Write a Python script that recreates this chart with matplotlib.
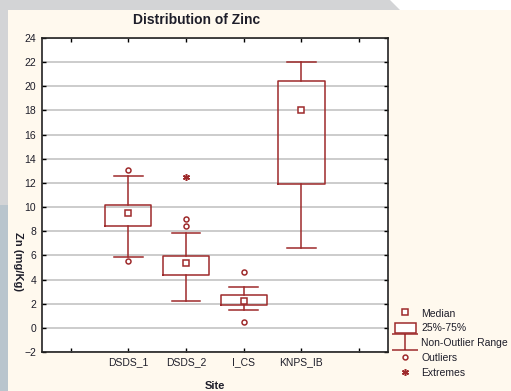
import matplotlib.pyplot as plt
from matplotlib.patches import Patch, Polygon, Rectangle
from matplotlib.lines import Line2D
from matplotlib.path import Path

plt.rcParams['font.family'] = ['Liberation Sans', 'DejaVu Sans']

sites = ["DSDS_1", "DSDS_2", "I_CS", "KNPS_IB"]
q1 = [8.4, 4.35, 1.9, 11.9]
q3 = [10.2, 5.95, 2.7, 20.45]
medians = [9.55, 5.4, 2.2, 18.0]
whis_lo = [5.9, 2.25, 1.5, 6.6]
whis_hi = [12.6, 7.85, 3.4, 22.0]
outliers = [[13.1, 5.5], [9.0, 8.4], [4.6, 0.5], []]
extremes = [[], [12.5], [], []]

col = '#9e2a2b'
txt = '#1e1e2a'

fig = plt.figure(figsize=(5.11, 3.91), dpi=100)
fig.patch.set_facecolor('white')
# page decoration behind the chart
deco = [
    Polygon([[0, 1], [390/511, 1], [400/511, 1 - 10/391], [0, 1 - 10/391]], closed=True,
            facecolor='#d3d4d6'),
    Rectangle((8/511, 0), 1, 1 - 10/391, facecolor='#fff9ee'),
    Rectangle((0, 186/391), 8/511, 1 - 196/391, facecolor='#d3d4d6'),
    Rectangle((0, 0), 8/511, 186/391, facecolor='#b9c5cd'),
]
for d in deco:
    d.set_transform(fig.transFigure)
    d.set_edgecolor('none')
    d.set_zorder(-10)
    fig.patches.append(d)

ax = fig.add_axes([41.7/511, 39/391, (388 - 41.7)/511, (352 - 38)/391])
ax.set_facecolor('white')

pos = list(range(1, len(sites) + 1))
stats = []
for i, s in enumerate(sites):
    stats.append(dict(label=s, med=medians[i], q1=q1[i], q3=q3[i],
                      whislo=whis_lo[i], whishi=whis_hi[i], fliers=[]))
ax.bxp(stats, positions=pos, widths=0.8, showfliers=False,
       boxprops=dict(color=col, lw=1.1),
       whiskerprops=dict(color=col, lw=1.1),
       capprops=dict(color=col, lw=1.1),
       medianprops=dict(lw=0), capwidths=0.5, zorder=3)
ax.plot(pos, medians, ls='none', marker='s', ms=3.8, mfc='white', mec=col, mew=1.1, zorder=4)
for p, vals in zip(pos, outliers):
    ax.plot([p] * len(vals), vals, ls='none', marker='o', ms=3.6, mfc='white', mec=col, mew=1.1, zorder=4)
for p, vals in zip(pos, extremes):
    ax.plot([p] * len(vals), vals, ls='none', marker=(6, 2, 0), ms=5, mec=col, mew=1.1, zorder=4)

ax.set_xlim(-0.5, 5.5)
ax.set_ylim(-2, 24)
ax.set_xticks(range(0, 6))
ax.set_xticklabels([''] + sites + [''])
ax.set_yticks(range(-2, 25, 2))
ax.yaxis.grid(True, color='#c4c4c4', lw=1.2)
ax.set_axisbelow(True)
ax.tick_params(direction='in', top=True, right=True, length=3, width=1,
               labelsize=7.5, labelcolor=txt, pad=4)
for sp in ax.spines.values():
    sp.set_color('#222222')
    sp.set_linewidth(1.2)

ax.set_xlabel('Site', fontsize=8, fontweight='bold', color=txt, labelpad=10)
ax.set_ylabel('Zn (mg/Kg)', fontsize=8, fontweight='bold', color=txt, rotation=270, va='center')
ax.yaxis.set_label_coords(-0.068, 0.287)
fig.text(197/511, 1 - 20/391, 'Distribution of Zinc', fontsize=10, fontweight='bold',
         color=txt, ha='center', va='center')

# legend
ibeam = Path([(-1, 0.58), (1, 0.58), (0, 0.58), (0, -0.58), (-1, -0.58), (1, -0.58)],
             [Path.MOVETO, Path.LINETO, Path.MOVETO, Path.LINETO, Path.MOVETO, Path.LINETO])
handles = [
    Line2D([], [], ls='none', marker='s', ms=4, mfc='white', mec=col, mew=1.1),
    Patch(facecolor='white', edgecolor=col, lw=1.1),
    Line2D([], [], ls='none', marker=ibeam, ms=19, mec=col, mew=1.1),
    Line2D([], [], ls='none', marker='o', ms=3.5, mfc='white', mec=col, mew=1.1),
    Line2D([], [], ls='none', marker=(6, 2, 0), ms=5, mec=col, mew=1.1),
]
labels = ['Median', '25%-75%', 'Non-Outlier Range', 'Outliers', 'Extremes']
leg = fig.legend(handles, labels, loc='upper left', bbox_to_anchor=(395/511, 1 - 308/391),
                 frameon=False, fontsize=7.5, handlelength=2.0, handleheight=1.1,
                 handletextpad=0.5, labelspacing=0.42, borderaxespad=0, borderpad=0)
for t in leg.get_texts():
    t.set_color(txt)

fig.savefig('out.png', dpi=100)
